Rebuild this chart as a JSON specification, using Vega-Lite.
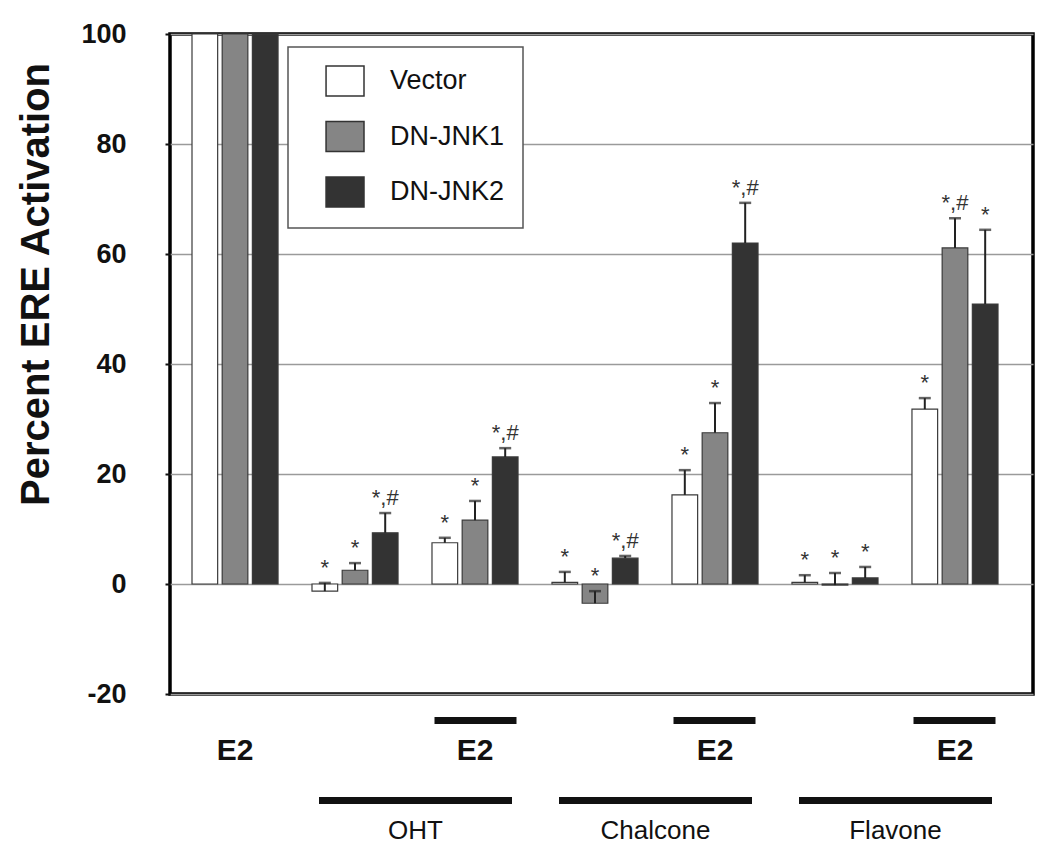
{
  "$schema": "https://vega.github.io/schema/vega-lite/v6.json",
  "width": 863,
  "height": 660,
  "autosize": "none",
  "padding": {"left": 170, "top": 34, "right": 17, "bottom": 170},
  "background": "white",
  "config": {
    "view": {"stroke": "#000", "strokeWidth": 3.5},
    "font": "Liberation Sans"
  },
  "data": {
    "values": [
      {"group": "E2", "series": "Vector", "value": 100, "upper": null, "sig": ""},
      {"group": "E2", "series": "DN-JNK1", "value": 100, "upper": null, "sig": ""},
      {"group": "E2", "series": "DN-JNK2", "value": 100, "upper": null, "sig": ""},
      {"group": "OHT", "series": "Vector", "value": -1.3, "upper": 0.2, "sig": "*"},
      {"group": "OHT", "series": "DN-JNK1", "value": 2.5, "upper": 3.8, "sig": "*"},
      {"group": "OHT", "series": "DN-JNK2", "value": 9.3, "upper": 12.9, "sig": "*,#"},
      {"group": "OHT+E2", "series": "Vector", "value": 7.5, "upper": 8.4, "sig": "*"},
      {"group": "OHT+E2", "series": "DN-JNK1", "value": 11.6, "upper": 15.1, "sig": "*"},
      {"group": "OHT+E2", "series": "DN-JNK2", "value": 23.1, "upper": 24.7, "sig": "*,#"},
      {"group": "Chalcone", "series": "Vector", "value": 0.3, "upper": 2.2, "sig": "*"},
      {"group": "Chalcone", "series": "DN-JNK1", "value": -3.5, "upper": -1.3, "sig": "*"},
      {"group": "Chalcone", "series": "DN-JNK2", "value": 4.7, "upper": 5.1, "sig": "*,#"},
      {"group": "Chalcone+E2", "series": "Vector", "value": 16.2, "upper": 20.7, "sig": "*"},
      {"group": "Chalcone+E2", "series": "DN-JNK1", "value": 27.5, "upper": 32.9, "sig": "*"},
      {"group": "Chalcone+E2", "series": "DN-JNK2", "value": 62.0, "upper": 69.3, "sig": "*,#"},
      {"group": "Flavone", "series": "Vector", "value": 0.3, "upper": 1.6, "sig": "*"},
      {"group": "Flavone", "series": "DN-JNK1", "value": -0.2, "upper": 2.0, "sig": "*"},
      {"group": "Flavone", "series": "DN-JNK2", "value": 1.1, "upper": 3.1, "sig": "*"},
      {"group": "Flavone+E2", "series": "Vector", "value": 31.8, "upper": 33.8, "sig": "*"},
      {"group": "Flavone+E2", "series": "DN-JNK1", "value": 61.1, "upper": 66.5, "sig": "*,#"},
      {"group": "Flavone+E2", "series": "DN-JNK2", "value": 50.9, "upper": 64.4, "sig": "*"}
    ]
  },
  "resolve": {"axis": {"x": "independent"}},
  "layer": [
    {
      "mark": {"type": "bar", "stroke": "#3a3a3a", "strokeWidth": 1.2},
      "encoding": {
        "x": {
          "field": "group", "type": "nominal",
          "sort": ["E2", "OHT", "OHT+E2", "Chalcone", "Chalcone+E2", "Flavone", "Flavone+E2"],
          "scale": {"paddingInner": 0.283, "paddingOuter": 0.2375, "align": 0.386},
          "axis": {
            "orient": "bottom", "title": null, "domain": false, "grid": false,
            "ticks": true, "tickSize": 7, "tickWidth": 82, "tickCap": "butt",
            "tickColor": {"condition": {"test": "datum.value == 'OHT+E2' || datum.value == 'Chalcone+E2' || datum.value == 'Flavone+E2'", "value": "#111"}, "value": "transparent"},
            "offset": 22.5,
            "labelExpr": "(datum.label == 'E2' || datum.label == 'OHT+E2' || datum.label == 'Chalcone+E2' || datum.label == 'Flavone+E2') ? 'E2' : ''",
            "labelFont": "Liberation Sans", "labelFontWeight": "bold", "labelFontSize": 30,
            "labelColor": "#111", "labelPadding": 12, "labelBaseline": "top", "labelAngle": 0,
            "labelBound": false, "labelFlush": false, "labelOverlap": false
          }
        },
        "xOffset": {
          "field": "series", "type": "nominal",
          "sort": ["Vector", "DN-JNK1", "DN-JNK2"],
          "scale": {"paddingInner": 0.15, "paddingOuter": 0}
        },
        "y": {
          "field": "value", "type": "quantitative",
          "scale": {"domain": [-20, 100], "nice": false, "zero": true},
          "axis": {
            "title": "Percent ERE Activation",
            "values": [-20, 0, 20, 40, 60, 80, 100],
            "labelExpr": "'' + datum.value",
            "grid": true, "gridColor": "#9a9a9a", "gridWidth": 1.5,
            "domain": false, "ticks": true, "tickSize": 5, "tickWidth": 2, "tickColor": "#111",
            "labelFont": "Liberation Sans", "labelFontWeight": "bold", "labelFontSize": 27,
            "labelColor": "#111", "labelPadding": 39,
            "titleFont": "Liberation Sans", "titleFontSize": 40, "titleFontWeight": "bold",
            "titleColor": "#111", "titleX": -134, "titleY": 250, "titleAngle": -90,
            "titleBaseline": "middle", "titleAlign": "center"
          }
        },
        "fill": {
          "field": "series", "type": "nominal",
          "scale": {"domain": ["Vector", "DN-JNK1", "DN-JNK2"], "range": ["#ffffff", "#858585", "#333333"]},
          "legend": {
            "orient": "none", "legendX": 118, "legendY": 13, "title": null,
            "strokeColor": "#555", "fillColor": "#fff", "padding": 18,
            "symbolType": "M0.27,-1H2.8V1H0.27Z", "symbolSize": 900,
            "symbolStrokeColor": "#333", "symbolStrokeWidth": 1.5, "symbolOpacity": 1,
            "labelFont": "Liberation Sans", "labelFontSize": 27, "labelColor": "#111",
            "labelOffset": 52, "rowPadding": 19.5, "labelLimit": 400,
            "labelExpr": "datum.label + '\u00a0\u00a0\u00a0\u00a0\u00a0\u00a0\u00a0'",
            "encode": {"legend": {"update": {"strokeWidth": {"value": 1.5}}}}
          }
        }
      }
    },
    {
      "transform": [{"filter": "isValid(datum.upper)"}],
      "mark": {"type": "rule", "color": "#222", "strokeWidth": 2},
      "encoding": {
        "x": {
          "field": "group", "type": "nominal",
          "sort": ["E2", "OHT", "OHT+E2", "Chalcone", "Chalcone+E2", "Flavone", "Flavone+E2"],
          "axis": {
            "orient": "bottom", "title": null, "domain": false, "grid": false,
            "ticks": true, "tickSize": 7, "tickWidth": 193, "tickCap": "butt", "tickOffset": 60,
            "tickColor": {"condition": {"test": "datum.value == 'OHT' || datum.value == 'Chalcone' || datum.value == 'Flavone'", "value": "#111"}, "value": "transparent"},
            "offset": 102.5, "labelOffset": 0,
            "labelExpr": "(datum.label == 'OHT' || datum.label == 'Chalcone' || datum.label == 'Flavone') ? datum.label : ''",
            "labelFont": "Liberation Sans", "labelFontWeight": "normal", "labelFontSize": 26,
            "labelColor": "#111", "labelPadding": 14, "labelBaseline": "top", "labelAngle": 0,
            "labelBound": false, "labelFlush": false, "labelOverlap": false
          }
        },
        "xOffset": {"field": "series", "type": "nominal", "sort": ["Vector", "DN-JNK1", "DN-JNK2"]},
        "y": {"field": "value", "type": "quantitative", "axis": {"title": "Percent ERE Activation"}},
        "y2": {"field": "upper"}
      }
    },
    {
      "transform": [{"filter": "isValid(datum.upper)"}],
      "mark": {"type": "tick", "color": "#222", "size": 12, "thickness": 2.5, "orient": "horizontal"},
      "encoding": {
        "x": {"field": "group", "type": "nominal", "sort": ["E2", "OHT", "OHT+E2", "Chalcone", "Chalcone+E2", "Flavone", "Flavone+E2"], "axis": null},
        "xOffset": {"field": "series", "type": "nominal", "sort": ["Vector", "DN-JNK1", "DN-JNK2"]},
        "y": {"field": "upper", "type": "quantitative", "axis": {"title": "Percent ERE Activation"}}
      }
    },
    {
      "transform": [{"filter": "datum.sig != ''"}],
      "mark": {"type": "text", "font": "Liberation Sans", "fontSize": 22, "color": "#333", "baseline": "alphabetic", "dy": -8},
      "encoding": {
        "x": {"field": "group", "type": "nominal", "sort": ["E2", "OHT", "OHT+E2", "Chalcone", "Chalcone+E2", "Flavone", "Flavone+E2"], "axis": null},
        "xOffset": {"field": "series", "type": "nominal", "sort": ["Vector", "DN-JNK1", "DN-JNK2"]},
        "y": {"field": "upper", "type": "quantitative", "axis": {"title": "Percent ERE Activation"}},
        "text": {"field": "sig"}
      }
    }
  ]
}
